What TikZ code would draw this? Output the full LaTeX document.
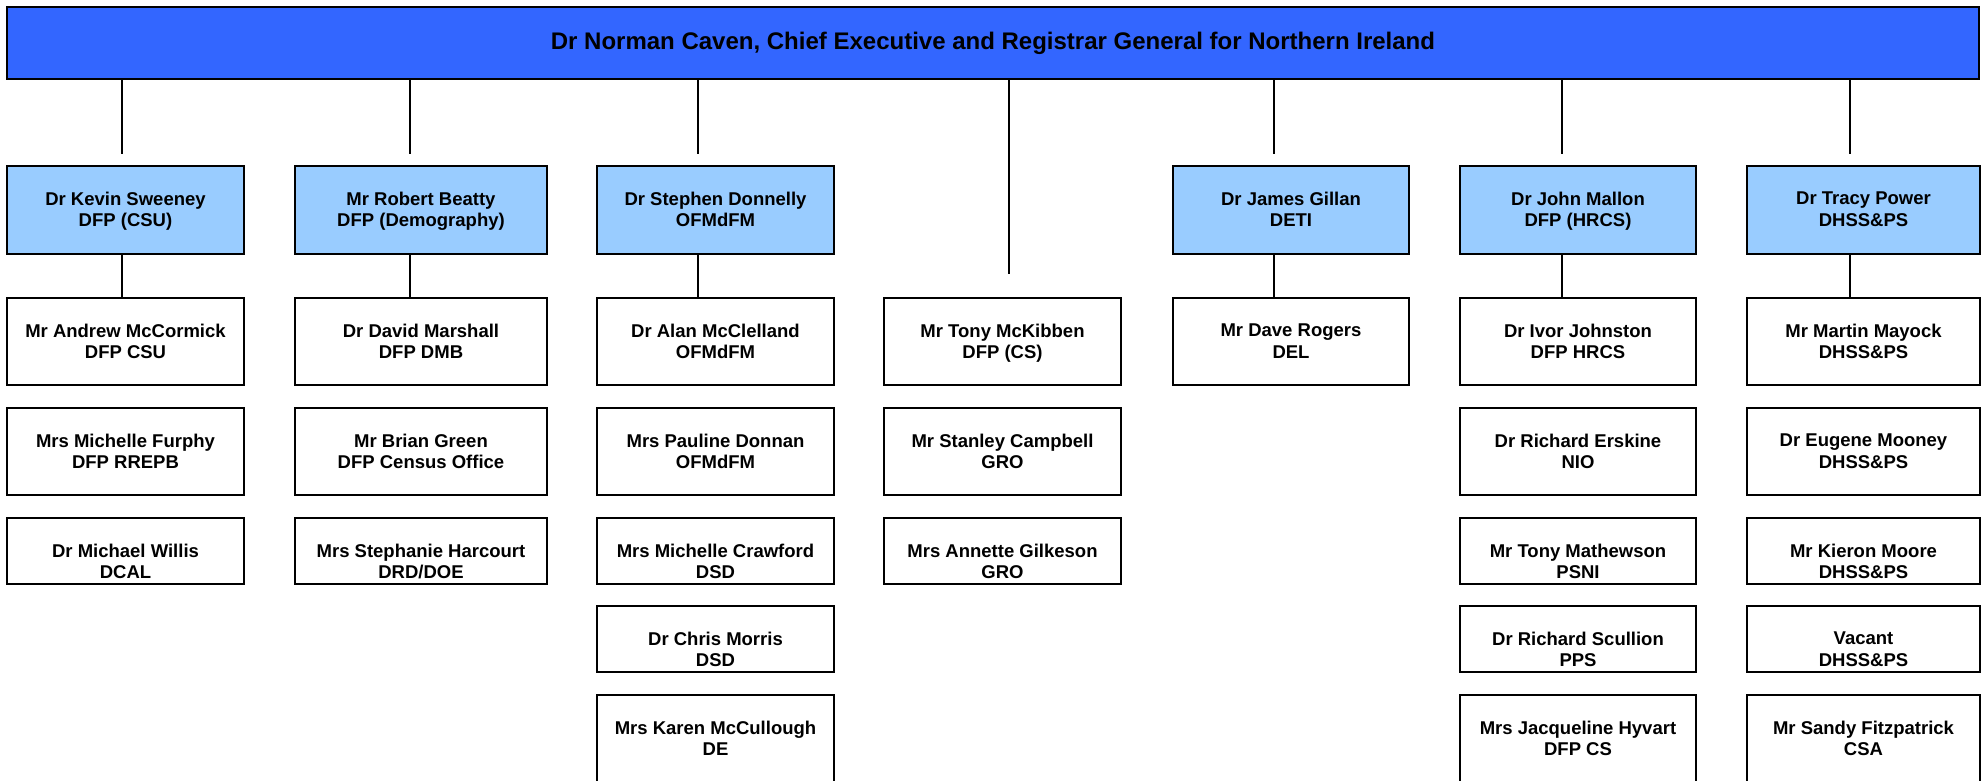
\documentclass[tikz,border=0pt]{standalone}
\usepackage{fontspec}
\setmainfont{Liberation Sans}
\definecolor{topblue}{HTML}{3366FF}
\definecolor{lvlblue}{HTML}{99CCFF}
\tikzset{
  boxbase/.style={draw=black, line width=2.8pt, inner sep=0pt, outer sep=0pt,
    font=\fontsize{18.5}{21.3}\selectfont\bfseries},
  headbox/.style={boxbase, fill=lvlblue},
  staffbox/.style={boxbase, fill=white},
  ceobox/.style={draw=black, line width=2.8pt, fill=topblue, inner sep=0pt,
    font=\fontsize{24}{28}\selectfont\bfseries},
  conn/.style={draw=black, line width=1.5pt},
}
\newcommand{\orgbox}[8]{%
  \node[#2, minimum width={#4-#3}, minimum height={#6-#5}] (#1) at ({(#3+#4)/2},{(#5+#6)/2})
  {\parbox[c][\dimexpr#6pt-#5pt\relax][t]{\dimexpr#4pt-#3pt\relax}{\centering\vspace*{26pt}#7\\#8\par}};}
\begin{document}
\begin{tikzpicture}[x=1pt,y=-1pt]
\useasboundingbox (0,0) rectangle (1982,781);
\clip (0,0) rectangle (1982,781);
\fill[white] (0,0) rectangle (1982,781);

\node[ceobox, minimum width=1972, minimum height=72] (ceo) at (993,43)
  {Dr Norman Caven, Chief Executive and Registrar General for Northern Ireland};

% heads
\orgbox{h1}{headbox}{7}{244}{166}{254}{Dr Kevin Sweeney}{DFP (CSU)}
\orgbox{h2}{headbox}{295}{547}{166}{254}{Mr Robert Beatty}{DFP (Demography)}
\orgbox{h3}{headbox}{597}{834}{166}{254}{Dr Stephen Donnelly}{OFMdFM}
\orgbox{h5}{headbox}{1173}{1409}{166}{254}{Dr James Gillan}{DETI}
\orgbox{h6}{headbox}{1460}{1696}{166}{254}{Dr John Mallon}{DFP (HRCS)}
\orgbox{h7}{headbox}{1747}{1980}{166}{254}{Dr Tracy Power}{DHSS\&PS}

% column 1
\orgbox{a1}{staffbox}{7}{244}{298}{385}{Mr Andrew McCormick}{DFP CSU}
\orgbox{a2}{staffbox}{7}{244}{408}{495}{Mrs Michelle Furphy}{DFP RREPB}
\orgbox{a3}{staffbox}{7}{244}{518}{584}{Dr Michael Willis}{DCAL}
% column 2
\orgbox{b1}{staffbox}{295}{547}{298}{385}{Dr David Marshall}{DFP DMB}
\orgbox{b2}{staffbox}{295}{547}{408}{495}{Mr Brian Green}{DFP Census Office}
\orgbox{b3}{staffbox}{295}{547}{518}{584}{Mrs Stephanie Harcourt}{DRD/DOE}
% column 3
\orgbox{c1}{staffbox}{597}{834}{298}{385}{Dr Alan McClelland}{OFMdFM}
\orgbox{c2}{staffbox}{597}{834}{408}{495}{Mrs Pauline Donnan}{OFMdFM}
\orgbox{c3}{staffbox}{597}{834}{518}{584}{Mrs Michelle Crawford}{DSD}
\orgbox{c4}{staffbox}{597}{834}{606}{672}{Dr Chris Morris}{DSD}
\orgbox{c5}{staffbox}{597}{834}{695}{782}{Mrs Karen McCullough}{DE}
% column 4
\orgbox{d1}{staffbox}{884}{1121}{298}{385}{Mr Tony McKibben}{DFP (CS)}
\orgbox{d2}{staffbox}{884}{1121}{408}{495}{Mr Stanley Campbell}{GRO}
\orgbox{d3}{staffbox}{884}{1121}{518}{584}{Mrs Annette Gilkeson}{GRO}
% column 5
\orgbox{f1}{staffbox}{1173}{1409}{298}{385}{Mr Dave Rogers}{DEL}
% column 6
\orgbox{g1}{staffbox}{1460}{1696}{298}{385}{Dr Ivor Johnston}{DFP HRCS}
\orgbox{g2}{staffbox}{1460}{1696}{408}{495}{Dr Richard Erskine}{NIO}
\orgbox{g3}{staffbox}{1460}{1696}{518}{584}{Mr Tony Mathewson}{PSNI}
\orgbox{g4}{staffbox}{1460}{1696}{606}{672}{Dr Richard Scullion}{PPS}
\orgbox{g5}{staffbox}{1460}{1696}{695}{782}{Mrs Jacqueline Hyvart}{DFP CS}
% column 7
\orgbox{k1}{staffbox}{1747}{1980}{298}{385}{Mr Martin Mayock}{DHSS\&PS}
\orgbox{k2}{staffbox}{1747}{1980}{408}{495}{Dr Eugene Mooney}{DHSS\&PS}
\orgbox{k3}{staffbox}{1747}{1980}{518}{584}{Mr Kieron Moore}{DHSS\&PS}
\orgbox{k4}{staffbox}{1747}{1980}{606}{672}{Vacant}{DHSS\&PS}
\orgbox{k5}{staffbox}{1747}{1980}{695}{782}{Mr Sandy Fitzpatrick}{CSA}

% connector ends
\coordinate (e1) at (122,154);
\coordinate (e2) at (410,154);
\coordinate (e3) at (698,154);
\coordinate (e4) at (1009,274);
\coordinate (e5) at (1274,154);
\coordinate (e6) at (1562,154);
\coordinate (e7) at (1850,154);

\foreach \e in {e1,e2,e3,e4,e5,e6,e7}
  \draw[conn] (ceo.south -| \e) -- (\e);

\draw[conn] (h1.south -| e1) -- (a1.north -| e1);
\draw[conn] (h2.south -| e2) -- (b1.north -| e2);
\draw[conn] (h3.south -| e3) -- (c1.north -| e3);
\draw[conn] (h5.south -| e5) -- (f1.north -| e5);
\draw[conn] (h6.south -| e6) -- (g1.north -| e6);
\draw[conn] (h7.south -| e7) -- (k1.north -| e7);
\end{tikzpicture}
\end{document}
